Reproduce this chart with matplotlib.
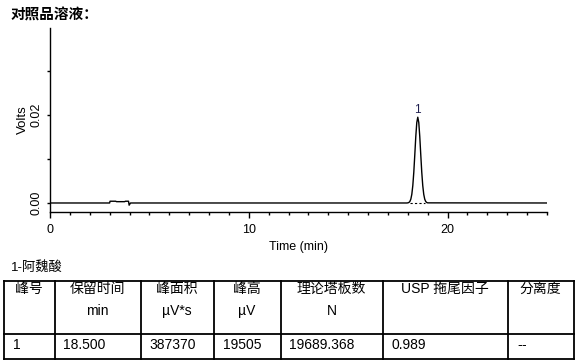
import matplotlib
matplotlib.use("Agg")
import matplotlib.pyplot as plt
from matplotlib.ticker import MultipleLocator, FixedLocator

plt.rcParams['font.family'] = ['Liberation Sans', 'Noto Sans CJK SC', 'DejaVu Sans']

# ---- data ----
time_min = [0.0, 3.0, 3.02, 3.3, 3.35, 3.75, 3.8, 3.95, 3.98, 4.05, 17.95,
            18.0, 18.05, 18.1, 18.15, 18.2, 18.25, 18.3, 18.35, 18.4, 18.45,
            18.5, 18.55, 18.6, 18.65, 18.7, 18.75, 18.8, 18.85, 18.9, 18.95,
            19.0, 25.0]
volts = [0.0, 0.0, 0.0004, 0.0004, 0.0003, 0.0003, 0.0004, 0.0004, -0.0005, 0.0, 0.0,
         0.00003, 0.00011, 0.00033, 0.00086, 0.00197, 0.00396, 0.00702, 0.01098, 0.01512, 0.0183,
         0.01951, 0.0183, 0.01512, 0.01098, 0.00702, 0.00396, 0.00197, 0.00086, 0.00033, 0.00011,
         0.00003, 0.0]
peak_names = ["1"]
peak_rt = [18.5]
peak_height = [0.01951]
peak_start = [18.1]
peak_end = [18.85]

title = "对照品溶液："
compound_label = "1-阿魏酸"
header_top = ["峰号", "保留时间", "峰面积", "峰高", "理论塔板数", "USP 拖尾因子", "分离度"]
header_unit = ["", "min", "µV*s", "µV", "N", "", ""]
row_values = ["1", "18.500", "387370", "19505", "19689.368", "0.989", "--"]

# ---- figure ----
W, H = 580, 363
fig = plt.figure(figsize=(W / 100, H / 100), dpi=100)
ax = fig.add_axes([50 / W, 1 - 212 / H, 497 / W, 184 / H])

ax.plot(time_min, volts, color='black', lw=1.0)
for s, e in zip(peak_start, peak_end):
    ax.plot([s, e], [0, 0], color='black', lw=0.8, ls=(0, (2, 2)))
for n, rt, h in zip(peak_names, peak_rt, peak_height):
    ax.annotate(n, (rt, h), xytext=(0, 1), textcoords='offset points',
                ha='center', va='bottom', fontsize=8.5, color='#202050')

ax.set_xlim(0, 25)
ax.set_ylim(-0.00205, 0.0398)
ax.xaxis.set_major_locator(FixedLocator([0, 10, 20]))
ax.xaxis.set_minor_locator(MultipleLocator(1))
ax.yaxis.set_major_locator(FixedLocator([0.0, 0.02]))
ax.yaxis.set_minor_locator(FixedLocator([0.01, 0.03]))
ax.yaxis.set_major_formatter(matplotlib.ticker.FormatStrFormatter('%.2f'))
for sp in ['top', 'right']:
    ax.spines[sp].set_visible(False)
for sp in ['left', 'bottom']:
    ax.spines[sp].set_linewidth(1.0)
ax.tick_params(axis='x', which='major', length=4, width=1, pad=4.5, labelsize=9)
ax.tick_params(axis='x', which='minor', length=2.5, width=1)
ax.tick_params(axis='y', which='both', length=2.5, width=1, pad=3, labelsize=9)
for lbl in ax.get_yticklabels():
    lbl.set_rotation(90)
    lbl.set_va('center')
ax.set_xlabel("Time (min)", fontsize=9, labelpad=4)
ax.set_ylabel("Volts", fontsize=9.5, labelpad=1)

# ---- overlay for title and table (pixel coordinates) ----
ov = fig.add_axes([0, 0, 1, 1], zorder=-1)
ov.set_xlim(0, W)
ov.set_ylim(H, 0)
ov.axis('off')

ov.text(11, 15, title, fontsize=10.5, fontweight='bold', ha='left', va='center')
ov.text(11, 267, compound_label, fontsize=9.5, ha='left', va='center')

cols = [3.5, 54.5, 140.5, 213.5, 280.5, 382.5, 507.5, 573.5]
rows = [280.5, 333.5, 358.5]
for x in cols:
    ov.plot([x, x], [rows[0], rows[-1]], color='black', lw=1.3)
for y in rows:
    ov.plot([cols[0], cols[-1]], [y, y], color='black', lw=1.3)

for i in range(len(header_top)):
    cx = (cols[i] + cols[i + 1]) / 2
    ov.text(cx, 289, header_top[i], fontsize=10, ha='center', va='center')
    if header_unit[i]:
        ov.text(cx, 311, header_unit[i], fontsize=10, ha='center', va='center')
    val = row_values[i]
    if val == "--":
        # draw the two hyphens separately so they stay visibly apart
        for k, ch in enumerate(val):
            ov.text(cols[i] + 9.5 + 4.5 * k, 345, ch, fontsize=10, ha='left', va='center')
    else:
        ov.text(cols[i] + 9, 345, val, fontsize=10, ha='left', va='center')

fig.savefig("out.png", dpi=100)
